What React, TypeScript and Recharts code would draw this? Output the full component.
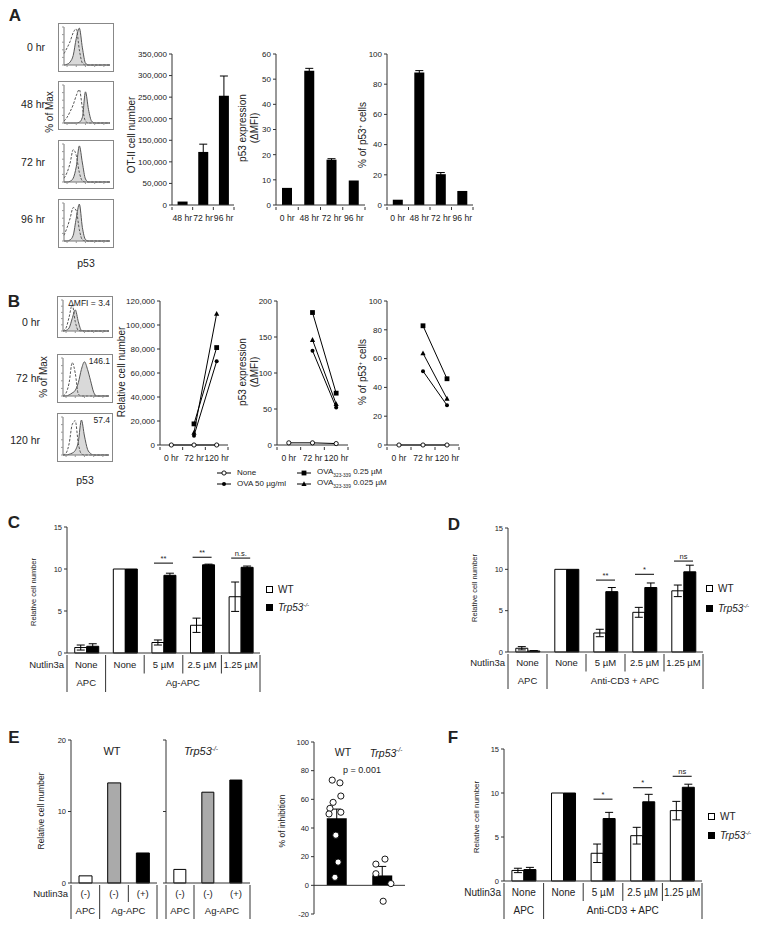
import React from 'react'
import {
  BarChart, Bar, AreaChart, Area, LineChart, Line, ComposedChart, Scatter,
  XAxis, YAxis, ErrorBar, Cell, ReferenceLine, ReferenceDot,
} from 'recharts'

const FONT = '"Liberation Sans", Arial, Helvetica, sans-serif'
const INK = '#222'
const AX = '#333'

// ---- histogram bins (p53 staining, % of max); dashed = isotype control
const histBins = [0, 1, 2, 3, 4, 5, 6, 7, 8, 9, 10, 11, 12, 13, 14, 15]
const aIso0h = [30, 45, 62, 85, 95, 40, 5, 0, 0, 0, 0, 0, 0, 0, 0, 0]
const aP53_0h = [0, 2, 8, 25, 70, 97, 45, 5, 0, 0, 0, 0, 0, 0, 0, 0]
const aIso48h = [5, 15, 30, 48, 72, 88, 40, 5, 0, 0, 0, 0, 0, 0, 0, 0]
const aP53_48h = [0, 0, 0, 0, 0, 2, 15, 82, 35, 5, 0, 0, 0, 0, 0, 0]
const aIso72h = [10, 25, 50, 85, 70, 25, 3, 0, 0, 0, 0, 0, 0, 0, 0, 0]
const aP53_72h = [0, 0, 2, 10, 40, 95, 50, 8, 0, 0, 0, 0, 0, 0, 0, 0]
const aIso96h = [15, 35, 60, 88, 80, 30, 3, 0, 0, 0, 0, 0, 0, 0, 0, 0]
const aP53_96h = [0, 0, 3, 15, 60, 97, 35, 4, 0, 0, 0, 0, 0, 0, 0, 0]
const bIso0h = [0, 10, 45, 85, 30, 2, 0, 0, 0, 0, 0, 0, 0, 0, 0, 0]
const bP53_0h = [0, 2, 10, 40, 68, 30, 2, 0, 0, 0, 0, 0, 0, 0, 0, 0]
const bIso72h = [0, 8, 35, 88, 60, 5, 0, 0, 0, 0, 0, 0, 0, 0, 0, 0]
const bP53_72h = [0, 0, 3, 8, 15, 35, 70, 90, 70, 40, 10, 0, 0, 0, 0, 0]
const bIso120h = [0, 5, 30, 80, 90, 30, 3, 0, 0, 0, 0, 0, 0, 0, 0, 0]
const bP53_120h = [0, 0, 2, 5, 12, 35, 92, 50, 15, 4, 0, 0, 0, 0, 0, 0]

// ---- A: kinetics
const aCellHours = ['48 hr', '72 hr', '96 hr']
const aCellNumber = [8000, 123000, 253000]
const aCellErr = [0, 18000, 46000]
const aCellTicks = [0, 50000, 100000, 150000, 200000, 250000, 300000, 350000]
const aHours = ['0 hr', '48 hr', '72 hr', '96 hr']
const aMfi = [6.8, 53.3, 18, 9.7]
const aMfiErr = [0, 1, 0.4, 0]
const aMfiTicks = [0, 10, 20, 30, 40, 50, 60]
const aPct = [3.5, 87.8, 20.4, 9.3]
const aPctErr = [0, 1.2, 1.1, 0]
const pctTicks = [0, 20, 40, 60, 80, 100]

// ---- B: titration of antigen
const bHours = ['0 hr', '72 hr', '120 hr']
const bCellNone = [0, 0, 0]
const bCellOva50 = [null, 7800, 69800]
const bCellPep025 = [null, 17600, 81200]
const bCellPep0025 = [null, 10300, 109400]
const bCellTicks = [0, 20000, 40000, 60000, 80000, 100000, 120000]
const bMfiNone = [3, 3, 2]
const bMfiOva50 = [null, 131, 52]
const bMfiPep025 = [null, 184, 72]
const bMfiPep0025 = [null, 146, 57]
const bMfiTicks = [0, 50, 100, 150, 200]
const bPctNone = [0, 0, 0]
const bPctOva50 = [null, 51.3, 27.6]
const bPctPep025 = [null, 82.8, 46]
const bPctPep0025 = [null, 63.7, 32.2]

// ---- C, D, F: Nutlin3a titration, WT vs Trp53-/-
const nutlinDoses = ['None', 'None', '5 µM', '2.5 µM', '1.25 µM']
const relTicks = [0, 5, 10, 15]
const cGroups = ['APC', 'Ag-APC']
const cdGroups = ['APC', 'Anti-CD3 + APC']
const groupSpans = [1, 4]
const cWT = [0.65, 10, 1.25, 3.3, 6.7]
const cWTErr = [0.3, 0, 0.3, 0.85, 1.75]
const cKO = [0.8, 10, 9.25, 10.5, 10.2]
const cKOErr = [0.3, 0, 0.25, 0.08, 0.15]
const cSig = [null, null, '**', '**', 'n.s.']
const cSigY = [null, null, 10.7, 11.4, 11.3]
const dWT = [0.45, 10, 2.3, 4.8, 7.4]
const dWTErr = [0.2, 0, 0.45, 0.6, 0.7]
const dKO = [0.12, 10, 7.3, 7.8, 9.7]
const dKOErr = [0.05, 0, 0.5, 0.55, 0.8]
const dSig = [null, null, '**', '*', 'ns']
const dSigY = [null, null, 8.7, 9.4, 11.0]
const fWT = [1.2, 10, 3.15, 5.15, 8.0]
const fWTErr = [0.25, 0, 1.05, 0.95, 1.05]
const fKO = [1.3, 10, 7.1, 9.0, 10.65]
const fKOErr = [0.25, 0, 0.7, 0.85, 0.35]
const fSig = [null, null, '*', '*', 'ns']
const fSigY = [null, null, 9.3, 10.6, 11.9]

// ---- E
const eNutlin = ['(-)', '(-)', '(+)']
const eGroups = ['APC', 'Ag-APC']
const eSpans = [1, 2]
const eWT = [1.0, 14.0, 4.2]
const eKO = [1.9, 12.7, 14.4]
const eTicks = [0, 10, 20]
const inhibGenotypes = ['WT', 'Trp53-/-']
const inhibMean = [46.8, 6.9]
const inhibErr = [6.4, 6.3]
const inhibTicks = [-20, 0, 20, 40, 60, 80, 100]
const inhibWTx = [0.4, 0.57, 0.59, 0.42, 0.35, 0.33, 0.59, 0.48, 0.53, 0.46]
const inhibWTy = [73.4, 71.5, 62.3, 57.9, 53.7, 49.8, 51.0, 35, 16.2, 5.6]
const inhibKOx = [1.36, 1.56, 1.36, 1.69, 1.52]
const inhibKOy = [14.8, 18.3, 8.1, 1.2, -11.1]

const eBarFills = ['#fff', '#aaa', '#000']
const fmtThousands = (v: number) => v.toLocaleString('en-US')

function Txt({ x, y, size = 10, anchor = 'middle', rotate = false, weight = 400, italic = false, children }: any) {
  const tx = anchor === 'middle' ? '-50%' : anchor === 'end' ? '-100%' : '0%'
  return (
    <div
      style={{
        position: 'absolute', left: x, top: y, fontSize: size, fontWeight: weight,
        fontStyle: italic ? 'italic' : 'normal', lineHeight: 1.15, whiteSpace: 'nowrap',
        color: INK, textAlign: 'center',
        transform: `translate(${tx}, -50%)` + (rotate ? ' rotate(-90deg)' : ''),
      }}
    >
      {children}
    </div>
  )
}

const KO = ({ size }: any) => (
  <i style={{ fontSize: size }}>Trp53<sup style={{ fontSize: '0.6em' }}>-/-</sup></i>
)

function Hist({ x, y, h = 49, iso, stain, note }: any) {
  const rows = histBins.map((b, i) => ({ b, iso: iso[i], p53: stain[i] }))
  return (
    <div style={{ position: 'absolute', left: x, top: y, width: 56, height: h, border: '1px solid #888', boxSizing: 'border-box' }}>
      <AreaChart width={54} height={h - 2} data={rows} margin={{ top: 3, right: 3, left: 0, bottom: 0 }}>
        <XAxis dataKey="b" type="number" domain={[0, 15]} ticks={[1, 4, 7, 10, 13]} height={6} tickSize={2}
          tickFormatter={() => ''} axisLine={{ stroke: '#777' }} tickLine={{ stroke: '#999' }} />
        <YAxis domain={[0, 100]} ticks={[0, 20, 40, 60, 80, 100]} width={5} tickSize={2}
          tickFormatter={() => ''} axisLine={{ stroke: '#777' }} tickLine={{ stroke: '#999' }} />
        <Area type="monotone" dataKey="p53" stroke="#555" strokeWidth={1} fill="#d9d9d9" fillOpacity={1} isAnimationActive={false} />
        <Area type="monotone" dataKey="iso" stroke="#555" strokeWidth={1} strokeDasharray="2.5 1.5" fill="none" isAnimationActive={false} />
      </AreaChart>
      {note && (
        <div style={{ position: 'absolute', right: 2, top: 2, fontSize: 8.5, color: INK, lineHeight: 1 }}>{note}</div>
      )}
    </div>
  )
}

function CatTick({ x, y, payload, index, band, labels }: any) {
  const label = labels ? labels[Math.round(payload.value - 0.5)] : payload.value
  return (
    <g>
      {index === 0 && <line x1={x - band / 2} x2={x - band / 2} y1={y} y2={y + 3} stroke={AX} />}
      <line x1={x + band / 2} x2={x + band / 2} y1={y} y2={y + 3} stroke={AX} />
      <text x={x} y={y + 13.5} textAnchor="middle" fontSize={8.6} fill={INK}>{label}</text>
    </g>
  )
}

function TableTick({ x, y, index, band, rowH, fs, names, groups, spans, lead, inner }: any) {
  let start = 0
  let gi = 0
  let isStart = false
  let isEnd = false
  for (let g = 0; g < spans.length; g++) {
    if (index >= start && index < start + spans[g]) {
      gi = g
      isStart = index === start
      isEnd = index === start + spans[g] - 1
      break
    }
    start += spans[g]
  }
  const left = x - band / 2
  const right = x + band / 2
  const base1 = y + rowH / 2 + fs * 0.35
  const base2 = y + rowH * 1.5 + fs * 0.35
  return (
    <g>
      <text x={x} y={base1} textAnchor="middle" fontSize={fs} fill={INK}>{names[index]}</text>
      {(isEnd || inner) && (
        <line x1={right} x2={right} y1={y} y2={y + (isEnd ? 2 * rowH : rowH)} stroke={AX} />
      )}
      {index === 0 && <line x1={left} x2={left} y1={y} y2={y + 2 * rowH} stroke={AX} />}
      {index === 0 && lead && (
        <text x={left - 3} y={base1} textAnchor="end" fontSize={fs} fill={INK}>{lead}</text>
      )}
      {isStart && (
        <text x={left + (spans[gi] * band) / 2} y={base2} textAnchor="middle" fontSize={fs} fill={INK}>{groups[gi]}</text>
      )}
    </g>
  )
}

function SigMark({ cx, cy, text }: any) {
  if (cx == null || cy == null) return <g />
  return (
    <g>
      <line x1={cx - 9.5} x2={cx + 9.5} y1={cy} y2={cy} stroke="#000" strokeWidth={1} />
      <text x={cx} y={cy - 2.5} textAnchor="middle" fontSize={7.5} fill={INK}>{text}</text>
    </g>
  )
}

function Marker({ cx, cy, kind }: any) {
  if (cx == null || cy == null || isNaN(cx) || isNaN(cy)) return <g />
  if (kind === 'open') return <circle cx={cx} cy={cy} r={2.1} fill="#fff" stroke="#000" strokeWidth={0.9} />
  if (kind === 'dot') return <circle cx={cx} cy={cy} r={2} fill="#000" />
  if (kind === 'square') return <rect x={cx - 2.4} y={cy - 2.4} width={4.8} height={4.8} fill="#000" />
  if (kind === 'tri') return <polygon points={`${cx},${cy - 2.8} ${cx + 2.6},${cy + 2} ${cx - 2.6},${cy + 2}`} fill="#000" />
  return <g />
}

const yTick = { fontSize: 8, fill: INK }

function TimeBars({ x0, x1, labels, values, errs, ticks, fmt }: any) {
  const rows = labels.map((name: string, i: number) => ({ name, v: values[i], e: errs[i] }))
  const L = 50, R = 6, T = 6, B = 20
  const band = (x1 - x0) / labels.length
  return (
    <div style={{ position: 'absolute', left: x0 - L, top: 54 - T }}>
      <BarChart width={L + x1 - x0 + R} height={T + 151 + B} data={rows}
        margin={{ top: T, right: R, left: 0, bottom: 0 }} barCategoryGap="27%">
        <XAxis dataKey="name" interval={0} height={B} tickSize={0} tickLine={false} axisLine={{ stroke: AX }}
          tick={(p: any) => <CatTick {...p} band={band} />} />
        <YAxis width={L} domain={[0, ticks[ticks.length - 1]]} ticks={ticks} interval={0} tickFormatter={fmt}
          tickSize={3} tick={yTick} axisLine={{ stroke: AX }} tickLine={{ stroke: AX }} />
        <Bar dataKey="v" fill="#000" isAnimationActive={false}>
          <ErrorBar dataKey="e" width={4} stroke="#000" strokeWidth={1} />
        </Bar>
      </BarChart>
    </div>
  )
}

function TimeLines({ x0, x1, ticks, fmt, none, ova50, pep025, pep0025 }: any) {
  const rows = bHours.map((_, i) => ({ x: i + 0.5, none: none[i], ova50: ova50[i], p025: pep025[i], p0025: pep0025[i] }))
  const L = 50, R = 6, T = 6, B = 20
  const y0 = 301, y1 = 445
  const band = (x1 - x0) / bHours.length
  const series = [
    { key: 'none', kind: 'open' },
    { key: 'ova50', kind: 'dot' },
    { key: 'p025', kind: 'square' },
    { key: 'p0025', kind: 'tri' },
  ]
  return (
    <div style={{ position: 'absolute', left: x0 - L, top: y0 - T }}>
      <LineChart width={L + x1 - x0 + R} height={T + y1 - y0 + B} data={rows} margin={{ top: T, right: R, left: 0, bottom: 0 }}>
        <XAxis dataKey="x" type="number" domain={[0, bHours.length]} ticks={bHours.map((_, i) => i + 0.5)} interval={0}
          height={B} tickSize={0} tickLine={false} axisLine={{ stroke: AX }}
          tick={(p: any) => <CatTick {...p} band={band} labels={bHours} />} />
        <YAxis width={L} domain={[0, ticks[ticks.length - 1]]} ticks={ticks} interval={0} tickFormatter={fmt}
          tickSize={3} tick={yTick} axisLine={{ stroke: AX }} tickLine={{ stroke: AX }} />
        {series.map((s) => (
          <Line key={s.key} dataKey={s.key} stroke="#000" strokeWidth={1} isAnimationActive={false}
            dot={(p: any) => <Marker key={`${s.key}-${p.index}`} cx={p.cx} cy={p.cy} kind={p.value == null ? 'none' : s.kind} />}
            activeDot={false} />
        ))}
      </LineChart>
    </div>
  )
}

function NutlinBars({ x0, x1, y0, y1, wt, wtErr, ko, koErr, sig, sigY, groups, rowH, fs }: any) {
  // unique category keys so duplicate labels ("None") stay separate bands
  const rows = nutlinDoses.map((_, i) => ({ k: `d${i}`, wt: wt[i], wtE: wtErr[i], ko: ko[i], koE: koErr[i] }))
  const L = 58, R = 4, T = 6, B = 2 * rowH + 3
  const band = (x1 - x0) / rows.length
  return (
    <div style={{ position: 'absolute', left: x0 - L, top: y0 - T }}>
      <BarChart width={L + x1 - x0 + R} height={T + y1 - y0 + B} data={rows}
        margin={{ top: T, right: R, left: 0, bottom: 0 }} barCategoryGap="20%" barGap={0}>
        <XAxis dataKey="k" interval={0} height={B} tickSize={0} tickLine={false} axisLine={{ stroke: AX }}
          tick={(p: any) => (
            <TableTick {...p} band={band} rowH={rowH} fs={fs} names={nutlinDoses} groups={groups} spans={groupSpans} lead="Nutlin3a" inner />
          )} />
        <YAxis width={L} domain={[0, 15]} ticks={relTicks} interval={0} tickSize={3}
          tick={{ fontSize: 7.5, fill: INK }} axisLine={{ stroke: AX }} tickLine={{ stroke: AX }} />
        <Bar dataKey="wt" fill="#fff" stroke="#000" strokeWidth={1} isAnimationActive={false}>
          <ErrorBar dataKey="wtE" width={4} stroke="#000" strokeWidth={1} />
        </Bar>
        <Bar dataKey="ko" fill="#000" stroke="#000" strokeWidth={1} isAnimationActive={false}>
          <ErrorBar dataKey="koE" width={4} stroke="#000" strokeWidth={1} />
        </Bar>
        {sig.map((s: string | null, i: number) =>
          s ? (
            <ReferenceDot key={i} x={rows[i].k} y={sigY[i]} r={3} ifOverflow="visible"
              shape={(p: any) => <SigMark cx={p.cx} cy={p.cy} text={s} />} />
          ) : null,
        )}
      </BarChart>
    </div>
  )
}

function GenotypeBars({ x0, x1, values, labels, lead, inner }: any) {
  const rows = eNutlin.map((_, i) => ({ k: `n${i}`, v: values[i] }))
  const L = 40, R = 4, T = 6, B = 37
  const y0 = 740, y1 = 883
  const band = (x1 - x0) / rows.length
  return (
    <div style={{ position: 'absolute', left: x0 - L, top: y0 - T }}>
      <BarChart width={L + x1 - x0 + R} height={T + y1 - y0 + B} data={rows}
        margin={{ top: T, right: R, left: 0, bottom: 0 }} barCategoryGap="28%">
        <XAxis dataKey="k" interval={0} height={B} tickSize={0} tickLine={false} axisLine={{ stroke: AX }}
          tick={(p: any) => (
            <TableTick {...p} band={band} rowH={17} fs={9.5} names={eNutlin} groups={eGroups} spans={eSpans} lead={lead} inner={inner} />
          )} />
        <YAxis width={L} domain={[0, 20]} ticks={eTicks} interval={0} tickSize={3}
          tickFormatter={(v: number) => (labels ? String(v) : '')}
          tick={{ fontSize: 7.5, fill: INK }} axisLine={{ stroke: AX }} tickLine={{ stroke: AX }} />
        <Bar dataKey="v" stroke="#000" strokeWidth={1} isAnimationActive={false}>
          {rows.map((_, i) => <Cell key={i} fill={eBarFills[i]} />)}
        </Bar>
      </BarChart>
    </div>
  )
}

function Inhibition() {
  const rows = inhibGenotypes.map((name, i) => ({ name, mean: inhibMean[i], err: inhibErr[i] }))
  const wtPts = inhibWTx.map((x, i) => ({ x, y: inhibWTy[i] }))
  const koPts = inhibKOx.map((x, i) => ({ x, y: inhibKOy[i] }))
  const L = 40, R = 4, T = 6
  const x0 = 314, x1 = 405, y0 = 742, y1 = 914
  const dotShape = (p: any) => <circle cx={p.cx} cy={p.cy} r={3.1} fill="#fff" stroke="#000" strokeWidth={0.9} />
  return (
    <div style={{ position: 'absolute', left: x0 - L, top: y0 - T }}>
      <ComposedChart width={L + x1 - x0 + R} height={T + y1 - y0 + 4} data={rows}
        margin={{ top: T, right: R, left: 0, bottom: 4 }} barCategoryGap="28%">
        <XAxis dataKey="name" hide />
        <XAxis xAxisId="num" dataKey="x" type="number" domain={[0, 2]} hide />
        <YAxis width={L} domain={[-20, 100]} ticks={inhibTicks} interval={0} tickSize={3}
          tick={{ fontSize: 7.5, fill: INK }} axisLine={{ stroke: AX }} tickLine={{ stroke: AX }} />
        <ReferenceLine y={0} stroke={AX} />
        <Bar dataKey="mean" fill="#000" isAnimationActive={false}>
          <ErrorBar dataKey="err" width={4} stroke="#000" strokeWidth={1} />
        </Bar>
        <Scatter xAxisId="num" data={wtPts} dataKey="y" shape={dotShape} isAnimationActive={false} />
        <Scatter xAxisId="num" data={koPts} dataKey="y" shape={dotShape} isAnimationActive={false} />
      </ComposedChart>
    </div>
  )
}

function LegendBox({ x, y, fill, children }: any) {
  return (
    <>
      <div style={{ position: 'absolute', left: x, top: y, width: 7, height: 7, background: fill, border: '1px solid #000', boxSizing: 'border-box' }} />
      <Txt x={x + 12} y={y + 4} anchor="start" size={10}>{children}</Txt>
    </>
  )
}

function LineKey({ x, y, kind, children }: any) {
  return (
    <>
      <svg style={{ position: 'absolute', left: x, top: y - 4 }} width={14} height={8}>
        <line x1={0} x2={14} y1={4} y2={4} stroke="#000" strokeWidth={1} />
        <Marker cx={7} cy={4} kind={kind} />
      </svg>
      <Txt x={x + 20} y={y} anchor="start" size={8}>{children}</Txt>
    </>
  )
}

export default function App() {
  const sub = (s: string) => <sub style={{ fontSize: '0.6em' }}>{s}</sub>
  return (
    <div style={{ position: 'absolute', left: 0, top: 0, width: 762, height: 928, background: '#fff', fontFamily: FONT, overflow: 'hidden' }}>
      {/* ---------- A ---------- */}
      <Txt x={15} y={16} size={17} weight={700}>A</Txt>
      <Hist x={58} y={23} iso={aIso0h} stain={aP53_0h} />
      <Hist x={58} y={81} iso={aIso48h} stain={aP53_48h} />
      <Hist x={58} y={140} iso={aIso72h} stain={aP53_72h} />
      <Hist x={58} y={199} iso={aIso96h} stain={aP53_96h} />
      <Txt x={45} y={47} anchor="end" size={10.5}>0 hr</Txt>
      <Txt x={45} y={104} anchor="end" size={10.5}>48 hr</Txt>
      <Txt x={45} y={162} anchor="end" size={10.5}>72 hr</Txt>
      <Txt x={45} y={219} anchor="end" size={10.5}>96 hr</Txt>
      <Txt x={50} y={112} rotate size={10}>% of Max</Txt>
      <Txt x={86} y={263} size={10.5}>p53</Txt>

      <TimeBars x0={172} x1={234} labels={aCellHours} values={aCellNumber} errs={aCellErr} ticks={aCellTicks} fmt={fmtThousands} />
      <TimeBars x0={276} x1={365} labels={aHours} values={aMfi} errs={aMfiErr} ticks={aMfiTicks} />
      <TimeBars x0={387} x1={473} labels={aHours} values={aPct} errs={aPctErr} ticks={pctTicks} />
      <Txt x={132} y={135} rotate size={10}>OT-II cell number</Txt>
      <Txt x={248} y={128} rotate size={10}>p53 expression<br />(ΔMFI)</Txt>
      <Txt x={363} y={135} rotate size={10}>% of p53<sup style={{ fontSize: '0.6em' }}>+</sup> cells</Txt>

      {/* ---------- B ---------- */}
      <Txt x={14} y={302} size={17} weight={700}>B</Txt>
      <Hist x={57} y={296} h={42} iso={bIso0h} stain={bP53_0h} note="ΔMFI = 3.4" />
      <Hist x={57} y={354} iso={bIso72h} stain={bP53_72h} note="146.1" />
      <Hist x={57} y={413} iso={bIso120h} stain={bP53_120h} note="57.4" />
      <Txt x={40} y={322} anchor="end" size={10.5}>0 hr</Txt>
      <Txt x={40} y={378} anchor="end" size={10.5}>72 hr</Txt>
      <Txt x={40} y={440} anchor="end" size={10.5}>120 hr</Txt>
      <Txt x={44} y={377} rotate size={10}>% of Max</Txt>
      <Txt x={85} y={480} size={10.5}>p53</Txt>

      <TimeLines x0={160} x1={228} ticks={bCellTicks} fmt={fmtThousands} none={bCellNone} ova50={bCellOva50} pep025={bCellPep025} pep0025={bCellPep0025} />
      <TimeLines x0={277} x1={348} ticks={bMfiTicks} none={bMfiNone} ova50={bMfiOva50} pep025={bMfiPep025} pep0025={bMfiPep0025} />
      <TimeLines x0={387} x1={459} ticks={pctTicks} none={bPctNone} ova50={bPctOva50} pep025={bPctPep025} pep0025={bPctPep0025} />
      <Txt x={122} y={372} rotate size={10}>Relative cell number</Txt>
      <Txt x={248} y={372} rotate size={10}>p53 expression<br />(ΔMFI)</Txt>
      <Txt x={363} y={372} rotate size={10}>% of p53<sup style={{ fontSize: '0.6em' }}>+</sup> cells</Txt>

      <LineKey x={217} y={473} kind="open">None</LineKey>
      <LineKey x={217} y={484} kind="dot">OVA 50 µg/ml</LineKey>
      <LineKey x={297} y={473} kind="square">OVA{sub('323-339')} 0.25 µM</LineKey>
      <LineKey x={297} y={484} kind="tri">OVA{sub('323-339')} 0.025 µM</LineKey>

      {/* ---------- C ---------- */}
      <Txt x={14} y={523} size={17} weight={700}>C</Txt>
      <NutlinBars x0={67} x1={260} y0={527} y1={653} wt={cWT} wtErr={cWTErr} ko={cKO} koErr={cKOErr}
        sig={cSig} sigY={cSigY} groups={cGroups} rowH={18.5} fs={9.5} />
      <Txt x={34} y={592} rotate size={7.5}>Relative cell number</Txt>
      <LegendBox x={266} y={586} fill="#fff">WT</LegendBox>
      <LegendBox x={266} y={604} fill="#000"><KO /></LegendBox>

      {/* ---------- D ---------- */}
      <Txt x={454} y={525} size={17} weight={700}>D</Txt>
      <NutlinBars x0={508} x1={703} y0={528} y1={652} wt={dWT} wtErr={dWTErr} ko={dKO} koErr={dKOErr}
        sig={dSig} sigY={dSigY} groups={cdGroups} rowH={17.5} fs={9.5} />
      <Txt x={475} y={588} rotate size={7.5}>Relative cell number</Txt>
      <LegendBox x={706} y={585} fill="#fff">WT</LegendBox>
      <LegendBox x={706} y={605} fill="#000"><KO /></LegendBox>

      {/* ---------- E ---------- */}
      <Txt x={14} y={738} size={17} weight={700}>E</Txt>
      <GenotypeBars x0={71} x1={157} values={eWT} labels lead="Nutlin3a" inner />
      <GenotypeBars x0={166} x1={250} values={eKO} labels={false} inner={false} />
      <Txt x={42} y={811} rotate size={8.5}>Relative cell number</Txt>
      <Txt x={112} y={751} size={11}>WT</Txt>
      <Txt x={201} y={751} size={11}><KO /></Txt>

      <Inhibition />
      <Txt x={283} y={821} rotate size={8.5}>% of inhibition</Txt>
      <Txt x={343} y={752} size={10.5}>{inhibGenotypes[0]}</Txt>
      <Txt x={386} y={752} size={10.5}><KO /></Txt>
      <Txt x={362} y={770} size={9}>p = 0.001</Txt>

      {/* ---------- F ---------- */}
      <Txt x={453} y={738} size={17} weight={700}>F</Txt>
      <NutlinBars x0={504} x1={702} y0={749} y1={881} wt={fWT} wtErr={fWTErr} ko={fKO} koErr={fKOErr}
        sig={fSig} sigY={fSigY} groups={cdGroups} rowH={18} fs={10} />
      <Txt x={477} y={817} rotate size={8}>Relative cell number</Txt>
      <LegendBox x={708} y={813} fill="#fff">WT</LegendBox>
      <LegendBox x={708} y={832} fill="#000"><KO /></LegendBox>
    </div>
  )
}
